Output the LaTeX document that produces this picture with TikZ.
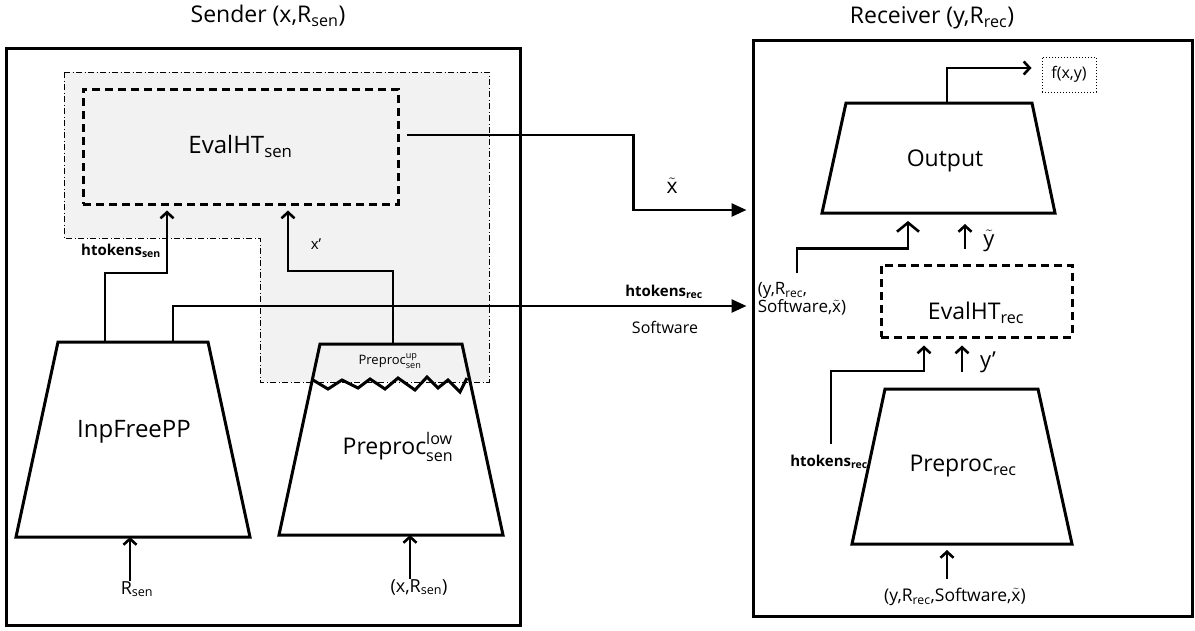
\documentclass[tikz,border=0pt]{standalone}
\usepackage{fontspec}
\setmainfont{Open Sans}
\usepackage{amsmath}
\usepackage{tikz}
\usetikzlibrary{arrows.meta}
\newcommand{\sbs}[1]{\textsubscript{#1}}

\begin{document}
\begin{tikzpicture}[x=1pt,y=-1pt]
% Define styles
\tikzstyle{outerBox}=[rectangle, draw=black, line width=3pt, inner sep=0pt]
\tikzstyle{evalBox}=[rectangle, draw=black, line width=3pt, dash pattern=on 8pt off 5pt, inner sep=0pt]
\tikzstyle{trap}=[draw=black, line width=3pt, line join=miter]
\tikzstyle{arrow}=[line width=2.6pt, -{Straight Barb[length=6pt,width=13pt]}]
\tikzstyle{bigArrow}=[line width=2.6pt, -{Straight Barb[length=9pt,width=22pt]}]
\tikzstyle{sendArrow}=[line width=2.6pt, -{Triangle[length=15pt,width=13pt]}]
\tikzstyle{title}=[inner sep=0pt, font=\fontsize{23}{27}\selectfont]
\tikzstyle{big}=[inner sep=0pt, font=\fontsize{23}{27}\selectfont]
\tikzstyle{small}=[inner sep=0pt, font=\fontsize{17}{18}\selectfont]
\tikzstyle{tok}=[inner sep=0pt, font=\fontsize{15}{17}\selectfont\bfseries]

\useasboundingbox (0,0) rectangle (1195,630);

% Titles
\node[title] (sentitle) at (268,16) {Sender (x,R\sbs{sen})};
\node[title] (rectitle) at (932,18) {Receiver (y,R\sbs{rec})};

% Draw main containers
\node[outerBox, minimum width=514, minimum height=577] (sender) at (263,336.5) {};
\node[outerBox, minimum width=439, minimum height=576] (receiver) at (972.5,328) {};

% Shaded part of the sender
\draw[fill=black!5, line width=1pt, dash pattern=on 6pt off 2.5pt on 1pt off 2.5pt]
  (64,72) -- (489,72) -- (489,382) -- (260,382) -- (260,238) -- (64,238) -- cycle;

% Sender blocks
\node[evalBox, fill=black!5, minimum width=315, minimum height=115, font=\fontsize{24}{28}\selectfont] (evalsen) at (240.5,146.5) {EvalHT\sbs{sen}};

\draw[trap] (58,342) -- (208,342) -- (250,537) -- (16,537) -- cycle;
\coordinate (inpA) at (105,342);
\coordinate (inpB) at (173,342);
\coordinate (inpIn) at (130,537);
\node[big, font=\fontsize{24}{28}\selectfont] (inpfree) at (134,432) {InpFreePP};

\draw[trap] (320,344) -- (462,344) -- (503,535) -- (279,535) -- cycle;
\draw[trap] (313,380) -- (328,389) -- (342,380) -- (358,388) -- (370,379) -- (385,389) -- (398,378)
  -- (415,390) -- (427,377) -- (438,388) -- (448,380) -- (460,392) -- (467,378);
\coordinate (preA) at (393,344);
\coordinate (preIn) at (410,535);
\node[inner sep=0pt, font=\fontsize{13}{15}\selectfont] (preup) at (390,361) {$\text{Preproc}^{\text{up}}_{\text{sen}}$};
\node[big] (prelow) at (398,447) {$\text{Preproc}^{\text{low}}_{\text{sen}}$};

% Sender labels
\node[tok] (hksen) at (121,251) {htokens\sbs{sen}};
\node[inner sep=0pt, font=\fontsize{15}{17}\selectfont] (xp) at (316,244) {x'};
\node[inner sep=0pt, font=\fontsize{18}{20}\selectfont] (rsen) at (137,589) {R\sbs{sen}};
\node[inner sep=0pt, font=\fontsize{18}{20}\selectfont] (xrsen) at (419,587) {(x,R\sbs{sen})};

% Sender arrows
\draw[arrow] (inpIn |- rsen.north) -- (inpIn);
\draw[arrow] (preIn |- xrsen.north) -- (preIn);
\draw[arrow, shorten >=5pt] (inpA) -- ++(0,-69) -| ([xshift=-73.5pt]evalsen.south);
\draw[arrow, shorten >=5pt] (preA) -- ++(0,-73) -| ([xshift=47.5pt]evalsen.south);

% Arrows from sender to receiver
\coordinate (xs) at ([xshift=7pt,yshift=11.5pt]evalsen.east);
\draw[sendArrow, shorten >=5pt] (xs) -- ++(227,0) -- ++(0,75) coordinate (xb) -- (xb -| receiver.west);
\draw[sendArrow, shorten >=5pt] (inpB) -- ++(0,-36) coordinate (hkb) -- (hkb -| receiver.west);
\node[inner sep=0pt, font=\fontsize{21}{22}\selectfont] (xtl) at (672,186) {$\tilde{\text{x}}$};
\node[tok] (hkrec) at (664,292) {htokens\sbs{rec}};
\node[inner sep=0pt, font=\fontsize{16}{18}\selectfont] (soft) at (665,327) {Software};

% Receiver blocks
\draw[trap] (846,103) -- (1032,103) -- (1055,213) -- (822,213) -- cycle;
\coordinate (outTop) at (947,103);
\coordinate (outBL) at (822,213);
\coordinate (outIn) at (908,213);
\node[big] (output) at (945,161) {Output};

\node[draw=black, line width=1pt, dotted, minimum width=54, minimum height=35, inner sep=0pt, font=\fontsize{16}{18}\selectfont] (fbox) at (1069,74.5) {f(x,y)};

\node[evalBox, minimum width=191, minimum height=72] (evalrec) at (976.5,301) {};
\node[big] (evalrectext) at (976,313) {EvalHT\sbs{rec}};

\draw[trap] (885,389) -- (1038,389) -- (1072,544) -- (852,544) -- cycle;
\coordinate (prTL) at (885,389);
\coordinate (prIn) at (947,544);
\node[big] (preprec) at (963,466) {Preproc\sbs{rec}};

% Receiver labels
\node[small, align=left] (inlbl) at (802,299) {(y,R\sbs{rec},\\Software,$\tilde{\text{x}}$)};
\node[tok] (hkrec2) at (829,462) {htokens\sbs{rec}};
\node[inner sep=0pt, font=\fontsize{17.5}{20}\selectfont] (reclbl) at (955,597) {(y,R\sbs{rec},Software,$\tilde{\text{x}}$)};
\node[inner sep=0pt, font=\fontsize{22}{24}\selectfont] (ytl) at (989,241) {$\tilde{\text{y}}$};
\node[inner sep=0pt, font=\fontsize{22}{24}\selectfont] (ypl) at (988,362) {y'};

% Receiver arrows
\draw[arrow, shorten >=10pt] (outTop) -- ++(0,-35) coordinate (fo) -- (fo -| fbox.west);
\coordinate (yt) at ([xshift=-11.5pt]evalrec.north);
\draw[arrow, shorten <=15pt, shorten >=11pt] (yt) -- (yt |- outBL);
\coordinate (yp) at ([xshift=-14.5pt]evalrec.south);
\draw[arrow, shorten <=17pt, shorten >=7pt] (yp |- prTL) -- (yp);
\draw[arrow, shorten >=7pt] ([xshift=2pt,yshift=11pt]hkrec2.north) -- ++(0,-73) -| ([xshift=-52.5pt]evalrec.south);
\draw[bigArrow, shorten >=8pt] ([xshift=-5pt,yshift=9pt]inlbl.north) -- ++(0,-25) -| (outIn);
\draw[arrow, shorten <=9pt, shorten >=6pt] (prIn |- reclbl.north) -- (prIn);
\end{tikzpicture}
\end{document}
